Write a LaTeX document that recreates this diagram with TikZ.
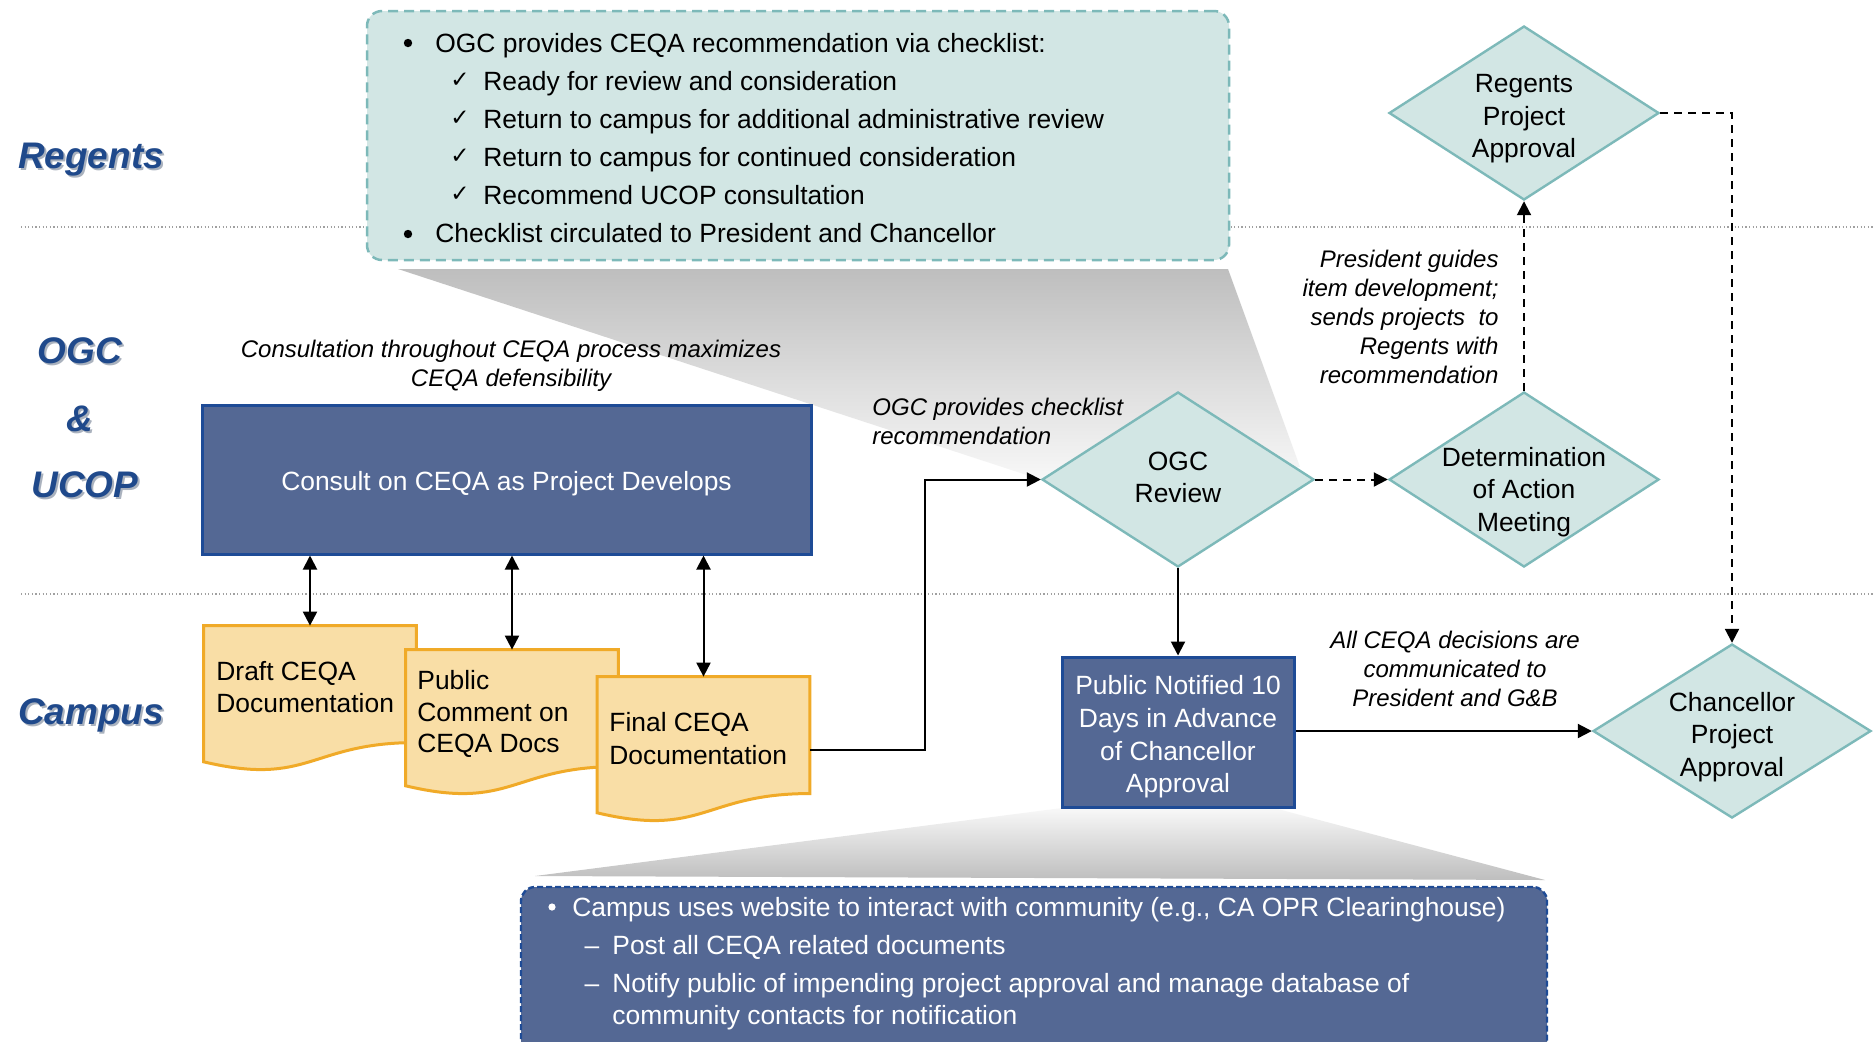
\documentclass[tikz,border=0pt]{standalone}
\usepackage{fontspec}
\setmainfont{Liberation Sans}
\newfontfamily\symfont{DejaVu Sans}
\usetikzlibrary{shapes.geometric,arrows.meta,calc}

\definecolor{lanecol}{RGB}{31,73,139}
\definecolor{laneshade}{RGB}{170,178,190}
\definecolor{tealedge}{RGB}{125,185,185}
\definecolor{tealfill}{RGB}{210,230,228}
\definecolor{slate}{RGB}{84,104,148}
\definecolor{slateedge}{RGB}{30,75,150}
\definecolor{docfill}{RGB}{249,222,166}
\definecolor{docedge}{RGB}{240,170,40}
\definecolor{sepgray}{RGB}{160,160,160}
\definecolor{fadegray}{RGB}{190,190,190}
\definecolor{fadewhite}{RGB}{248,248,248}

\begin{document}
\begin{tikzpicture}[x=0.5pt,y=-0.5pt,
  body/.style={font=\fontsize{13.2}{16.3}\selectfont, inner sep=0pt},
  oneline/.style={body, text height=9.5pt, text depth=0pt, anchor=west},
  note/.style={font=\fontsize{12}{14.5}\selectfont\itshape, inner sep=0pt},
  lane/.style={font=\fontsize{18.5}{22}\selectfont\bfseries\itshape, text=lanecol, inner sep=0pt},
  laneshadow/.style={lane, text=laneshade},
  dia/.style={diamond, draw=tealedge, fill=tealfill, line width=1.2pt, inner sep=0pt,
              minimum width=136pt, minimum height=87.5pt},
  diatext/.style={body, align=center},
  bluebox/.style={rectangle, draw=slateedge, fill=slate, line width=1.5pt, inner sep=0pt},
  docnode/.style={rectangle, minimum width=106pt, minimum height=72.5pt, inner sep=0pt},
  docshape/.style={draw=docedge, fill=docfill, line width=1.5pt},
  doctext/.style={body, align=left, anchor=west},
  dot/.style={circle, inner sep=0pt, minimum size=4.2pt},
  tip/.tip={Triangle[length=7pt,width=7pt]},
  arr/.style={-tip, line width=1pt},
  dblarr/.style={tip-tip, line width=1pt},
  dasharr/.style={arr, dash pattern=on 4pt off 3pt},
  lanesep/.style={sepgray, line width=0.6pt, dash pattern=on 0.6pt off 1.2pt},
  checkmark/.style={font=\symfont\fontsize{11.5}{14}\selectfont, inner sep=0pt}
]
\useasboundingbox (0,0) rectangle (1873,1041);
\clip (0,0) rectangle (1873,1041);
\fill[white] (0,0) rectangle (1873,1041);

% swim-lane separators
\draw[lanesep] (21,227) -- (1873,227);
\draw[lanesep] (21,594) -- (1873,594);

% swim-lane titles with drop shadow
\node[laneshadow] (regS)  at (93,162) {Regents};
\node[lane]       (regL)  at (91,160) {Regents};
\node[laneshadow] (ogcS)  at (82,353) {OGC};
\node[lane]       (ogcL)  at (80,351) {OGC};
\node[laneshadow] (ampS)  at (82,421) {\&};
\node[lane]       (ampL)  at (80,419) {\&};
\node[laneshadow] (ucopS) at (87,487) {UCOP};
\node[lane]       (ucopL) at (85,485) {UCOP};
\node[laneshadow] (campS) at (93,717) {Campus};
\node[lane]       (campL) at (91,715) {Campus};

% fading call-out wedges
\shade[top color=fadegray, bottom color=fadewhite]
  (398,269) -- (1228,269) -- (1300,467) -- (1042,480) -- cycle;
\shade[top color=fadewhite, bottom color=fadegray]
  (1062,808) -- (1274,808) -- (1545,880) -- (535,876) -- cycle;

% checklist call-out
\node[rectangle, rounded corners=7.5pt, draw=tealedge, fill=tealfill, line width=1.25pt,
      dash pattern=on 5pt off 3pt, minimum width=431pt, minimum height=124.5pt]
      (checklist) at (798,135.5) {};
\node[dot, fill=black] (b1) at (408,43) {};
\node[oneline] (c0) at (435,43) {OGC provides CEQA recommendation via checklist:};
\node[checkmark] (k1) at (460,80) {✓};
\node[oneline] (c1) at (483,81) {Ready for review and consideration};
\node[checkmark] (k2) at (460,118) {✓};
\node[oneline] (c2) at (483,119) {Return to campus for additional administrative review};
\node[checkmark] (k3) at (460,156) {✓};
\node[oneline] (c3) at (483,157) {Return to campus for continued consideration};
\node[checkmark] (k4) at (460,194) {✓};
\node[oneline] (c4) at (483,195) {Recommend UCOP consultation};
\node[dot, fill=black] (b2) at (408,234) {};
\node[oneline] (c5) at (435,233) {Checklist circulated to President and Chancellor};

% website call-out
\node[rectangle, rounded corners=7pt, draw=slateedge, fill=slate, line width=1.2pt,
      dash pattern=on 3pt off 1.5pt, minimum width=513pt, minimum height=91.5pt]
      (website) at (1034,978.5) {};
\node[dot, fill=white, minimum size=3.6pt] (b3) at (552,907) {};
\node[oneline, text=white] (w0) at (572,907) {Campus uses website to interact with community (e.g., CA OPR Clearinghouse)};
\node[body, text height=9.5pt, text depth=0pt, text=white] (d1) at (592,945) {–};
\node[oneline, text=white] (w1) at (612,945) {Post all CEQA related documents};
\node[body, text height=9.5pt, text depth=0pt, text=white] (d2) at (592,983) {–};
\node[oneline, text=white] (w2) at (612,983) {Notify public of impending project approval and manage database of};
\node[oneline, text=white] (w3) at (612,1015) {community contacts for notification};

% process boxes
\node[bluebox, minimum width=304.5pt, minimum height=74.5pt] (consult) at (506.5,479.5) {};
\node[body, text=white] (consultT) at (506.5,483.5) {Consult on CEQA as Project Develops};
\node[bluebox, minimum width=116pt, minimum height=75pt] (notified) at (1178,732) {};
\node[body, align=center, text=white] (notifiedT) at (1178,737)
  {Public Notified 10\\Days in Advance\\of Chancellor\\Approval};

% CEQA documents
\node[docnode] (draft)   at (310,698.5) {};
\node[docnode] (comment) at (512,722.5) {};
\node[docnode] (final)   at (703.5,749.5) {};
\foreach \d in {draft,comment,final}{
  \path[docshape] (\d.north west) -- (\d.north east)
    -- ($(\d.north east)!0.802!(\d.south east)$)
    .. controls ($(\d.north)!0.802!(\d.south)$) and ($(\d.north)!1.1075!(\d.south)$)
    .. ($(\d.north west)!0.934!(\d.south west)$) -- cycle;
}
\node[doctext] (draftT)   at (216,687)   {Draft CEQA\\Documentation};
\node[doctext, font=\fontsize{13.2}{15.8}\selectfont] (commentT) at (417,714) {Public\\Comment on\\CEQA Docs};
\node[doctext] (finalT)   at (609,738.5) {Final CEQA\\Documentation};

% decision diamonds
\node[dia] (ogc) at (1178,479.5) {};
\node[dia, minimum width=135pt] (det) at (1524,479.5) {};
\node[dia, minimum width=135pt, minimum height=87pt] (regents) at (1524,113) {};
\node[dia, minimum width=139pt, minimum height=87pt] (chanc) at (1732,731) {};
\node[diatext] (ogcT)   at (1178,477.5) {OGC\\Review};
\node[diatext] (detT)   at (1524,492) {Determination\\of Action\\Meeting};
\node[diatext] (regT)   at (1524,119) {Regents\\Project\\Approval};
\node[diatext] (chancT) at (1732,737) {Chancellor\\Project\\Approval};

% connectors
\draw[dblarr] (consult.south -| draft.north)   -- (draft.north);
\draw[dblarr] (consult.south -| comment.north) -- (comment.north);
\draw[dblarr] (consult.south -| final.north)   -- (final.north);
\coordinate (bend) at (925,479.5);
\draw[arr] (final.east) -| (bend) -- (ogc.west);
\draw[dasharr] (ogc.east) -- (det.west);
\draw[dasharr] (det.north) -- (regents.south);
\draw[dasharr] (regents.east) -| (chanc.north);
\draw[arr] (ogc.south) -- (notified.north);
\draw[arr] (notified.east |- chanc.west) -- (chanc.west);

% annotations
\node[note, align=center] (n1) at (511,366)
  {Consultation throughout CEQA process maximizes\\CEQA defensibility};
\node[note, align=left, anchor=west] (n2) at (872,421)
  {OGC provides checklist\\recommendation};
\node[note, align=right, anchor=east] (n3) at (1499,317)
  {President guides\\item development;\\sends projects\ \ to\\Regents with\\recommendation};
\node[note, align=center] (n4) at (1455,669)
  {All CEQA decisions are\\communicated to\\President and G\&B};
\end{tikzpicture}
\end{document}
